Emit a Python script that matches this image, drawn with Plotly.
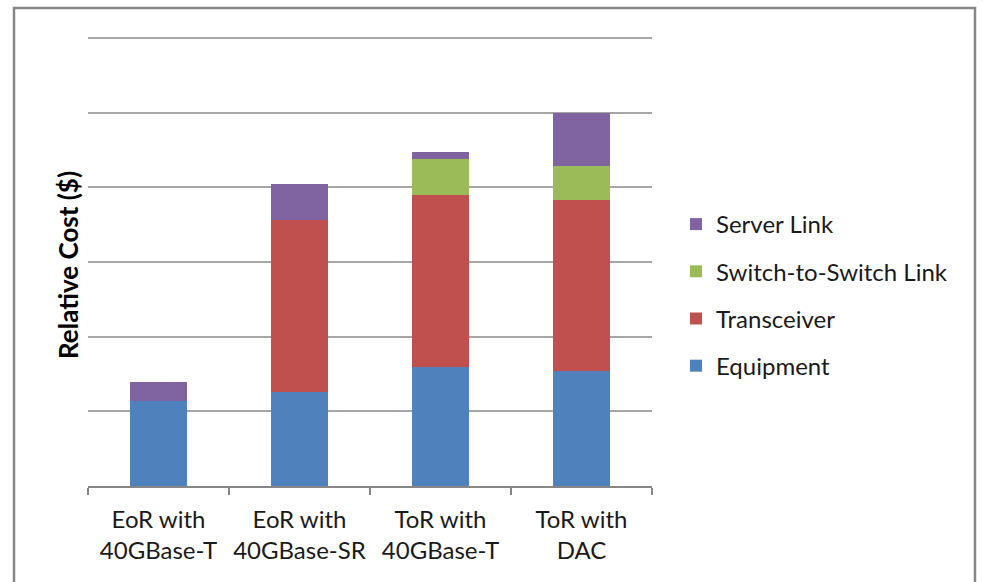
import plotly.graph_objects as go

categories = ["EoR with<br>40GBase-T", "EoR with<br>40GBase-SR", "ToR with<br>40GBase-T", "ToR with<br>DAC"]
equipment = [1.14, 1.26, 1.60, 1.54]
transceiver = [0.0, 2.30, 2.30, 2.29]
switch_link = [0.0, 0.0, 0.48, 0.46]
server_link = [0.25, 0.48, 0.09, 0.70]

series = [
    ("Equipment", equipment, "#4F81BD", 4),
    ("Transceiver", transceiver, "#C0504D", 3),
    ("Switch-to-Switch Link", switch_link, "#9BBB59", 2),
    ("Server Link", server_link, "#8064A2", 1),
]

FONT = "Lato"
fig = go.Figure()
for name, vals, col, rank in series:
    fig.add_trace(go.Bar(
        x=categories, y=vals, name=name, legendgroup=name, legendrank=rank,
        marker=dict(color=col, line=dict(width=0)),
    ))

W, H = 983, 582
L, R, T, B = 88, 331, 34, 96
pw, ph = W - L - R, H - T - B
YMAX = 6 * ph / 448.0

def px(x):
    return (x - L) / pw

def py(y):
    return 1 - (y - T) / ph

fig.update_layout(
    width=W, height=H,
    margin=dict(l=L, r=R, t=T, b=B, autoexpand=False),
    barmode="stack", bargap=0.6,
    plot_bgcolor="white", paper_bgcolor="white",
    font=dict(family=FONT, size=24, color="#1a1a1a"),
    showlegend=True,
    legend=dict(
        x=px(676), y=py(202), xanchor="left", yanchor="top",
        traceorder="grouped", tracegroupgap=13,
        font=dict(family=FONT, size=24, color="#1a1a1a"),
        itemwidth=30,
    ),
    xaxis=dict(
        showline=True, linecolor="#868686", linewidth=1.5,
        ticks="outside", tickson="boundaries", ticklen=7, tickcolor="#868686", tickwidth=1.5,
        tickfont=dict(family=FONT, size=24, color="#1a1a1a"),
        tickangle=0, automargin=False,
        ticklabelstandoff=11,
        showgrid=False,
    ),
    yaxis=dict(
        range=[0, YMAX], dtick=1, showticklabels=False,
        showgrid=True, gridcolor="#A6A6A6", gridwidth=1.5,
        zeroline=False, showline=False, ticks="", automargin=False,
    ),
    annotations=[dict(
        text="<b>Relative Cost ($)</b>", textangle=-90,
        xref="paper", yref="paper", x=px(68), y=py(265),
        xanchor="center", yanchor="middle", showarrow=False,
        font=dict(family=FONT, size=26, color="#000000"),
    )],
    shapes=[dict(
        type="rect", xref="paper", yref="paper",
        x0=px(14), x1=px(975), y0=py(640), y1=py(8),
        line=dict(color="#868686", width=2.5), fillcolor="rgba(0,0,0,0)",
        layer="below",
    )],
)

fig.write_html("out.html")
